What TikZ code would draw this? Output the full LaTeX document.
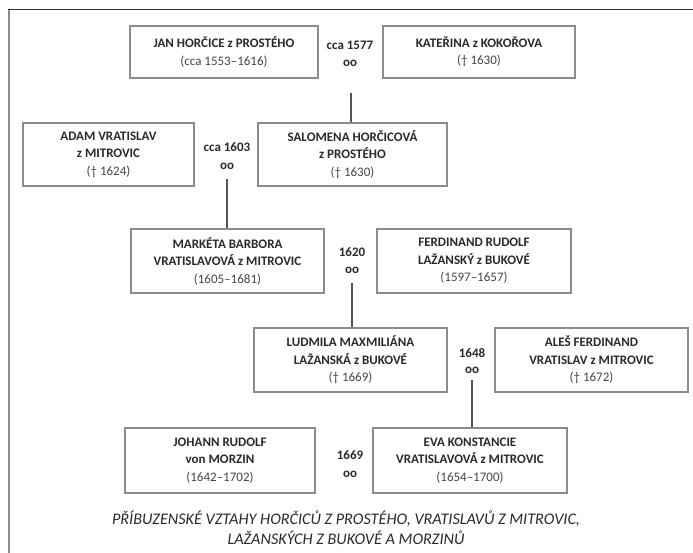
\documentclass[tikz,border=0pt]{standalone}
\usepackage{fontspec}
\setmainfont{Carlito}
\definecolor{nametext}{HTML}{2A2A2A}
\definecolor{datetext}{HTML}{454545}
\definecolor{boxline}{HTML}{8C8C8C}
\definecolor{linkline}{HTML}{555555}
\tikzset{
  person/.style={draw=boxline, line width=1.3pt, fill=white, rectangle, inner sep=0pt,
    align=center, font=\fontsize{13}{17.5}\selectfont\bfseries, text=nametext},
  wed/.style={font=\fontsize{13}{14}\selectfont\bfseries, text=nametext, inner sep=0pt},
  link/.style={draw=linkline, line width=1.4pt},
  caption/.style={font=\fontsize{16.2}{20}\selectfont\itshape, text=nametext, align=center, inner sep=0pt}
}
\newcommand{\dt}[1]{{\mdseries\color{datetext}#1}}
\begin{document}
\begin{tikzpicture}[x=1pt,y=-1pt]
\useasboundingbox (0,0) rectangle (693,553);
\fill[white] (0,0) rectangle (693,553);
% frame
\draw[draw=boxline, line width=1.8pt] (8.7,9.3) -- (8.7,560);
\draw[draw=black!80, line width=1.5pt] (8,9.3) -- (700,9.3);

% generation 1
\node[person, minimum width=188pt, minimum height=52pt] (jan) at (224,52)
  {JAN HORČICE z PROSTÉHO\\\dt{(cca 1553–1616)}};
\node[person, minimum width=192pt, minimum height=52pt] (kat) at (479,52)
  {KATEŘINA z KOKOŘOVA\\\dt{(† 1630)}};
\node[wed] (y1) at (350,45) {cca 1577};
\node[wed] (o1) at (350,63) {oo};

% generation 2
\node[person, minimum width=171pt, minimum height=63pt] (adam) at (108.5,154.5)
  {ADAM VRATISLAV\\z MITROVIC\\\dt{(† 1624)}};
\node[person, minimum width=189pt, minimum height=63pt] (sal) at (352.5,154.5)
  {SALOMENA HORČICOVÁ\\z PROSTÉHO\\\dt{(† 1630)}};
\node[wed] (y2) at (227,147) {cca 1603};
\node[wed] (o2) at (227,166) {oo};

% generation 3
\node[person, minimum width=193pt, minimum height=64pt] (mar) at (227.5,261)
  {MARKÉTA BARBORA\\VRATISLAVOVÁ z MITROVIC\\\dt{(1605–1681)}};
\node[person, minimum width=194pt, minimum height=64pt] (fer) at (474,261)
  {FERDINAND RUDOLF\\LAŽANSKÝ z BUKOVÉ\\\dt{(1597–1657)}};
\node[wed] (y3) at (352,252) {1620};
\node[wed] (o3) at (352,270) {oo};

% generation 4
\node[person, minimum width=193pt, minimum height=64pt] (lud) at (350.5,360)
  {LUDMILA MAXMILIÁNA\\LAŽANSKÁ z BUKOVÉ\\\dt{(† 1669)}};
\node[person, minimum width=193pt, minimum height=64pt] (ale) at (591.5,360)
  {ALEŠ FERDINAND\\VRATISLAV z MITROVIC\\\dt{(† 1672)}};
\node[wed] (y4) at (472,353) {1648};
\node[wed] (o4) at (472,370) {oo};

% generation 5
\node[person, minimum width=190pt, minimum height=65pt] (joh) at (220,460.5)
  {JOHANN RUDOLF\\von MORZIN\\\dt{(1642–1702)}};
\node[person, minimum width=194pt, minimum height=65pt] (eva) at (470,460.5)
  {EVA KONSTANCIE\\VRATISLAVOVÁ z MITROVIC\\\dt{(1654–1700)}};
\node[wed] (y5) at (350,455) {1669};
\node[wed] (o5) at (350,474) {oo};

% descent lines
\coordinate (s1) at (351,93);
\coordinate (s2) at (227,179);
\coordinate (s3) at (352,283);
\coordinate (s4) at (472,380);
\draw[link] (s1) -- (s1 |- sal.north);
\draw[link] (s2) -- (s2 |- mar.north);
\draw[link] (s3) -- (s3 |- lud.north);
\draw[link] (s4) -- (s4 |- eva.north);

% caption
\node[caption] (cap) at (346,528)
  {PŘÍBUZENSKÉ VZTAHY HORČICŮ Z PROSTÉHO, VRATISLAVŮ Z MITROVIC,\\LAŽANSKÝCH Z BUKOVÉ A MORZINŮ};
\end{tikzpicture}
\end{document}
